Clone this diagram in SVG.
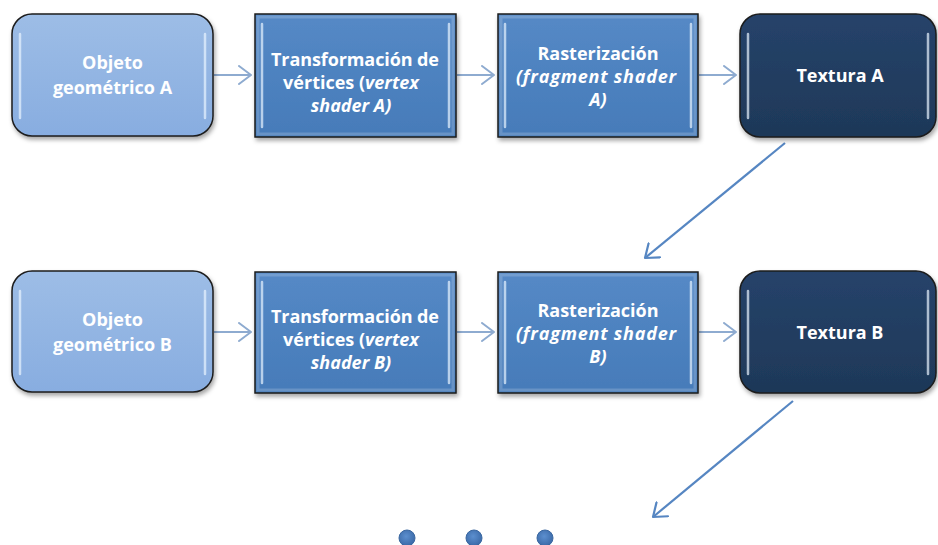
<svg xmlns="http://www.w3.org/2000/svg" width="938" height="545" viewBox="0 0 938 545">
  <defs>
    <linearGradient id="gLight" x1="0" y1="0" x2="0" y2="1">
      <stop offset="0" stop-color="#9dbde6"/>
      <stop offset="1" stop-color="#88ade0"/>
    </linearGradient>
    <linearGradient id="gMid" x1="0" y1="0" x2="0" y2="1">
      <stop offset="0" stop-color="#5589c6"/>
      <stop offset="1" stop-color="#467bb9"/>
    </linearGradient>
    <linearGradient id="gDark" x1="0" y1="0" x2="0" y2="1">
      <stop offset="0" stop-color="#26436a"/>
      <stop offset="1" stop-color="#1e3858"/>
    </linearGradient>
    <radialGradient id="gDot" cx="0.45" cy="0.4" r="0.6">
      <stop offset="0" stop-color="#5c8fcf"/>
      <stop offset="1" stop-color="#3b6aa8"/>
    </radialGradient>
    <filter id="shadow" x="-10%" y="-10%" width="125%" height="130%">
      <feDropShadow dx="1.5" dy="3" stdDeviation="2" flood-color="#000" flood-opacity="0.35"/>
    </filter>
    <marker id="chevH" viewBox="0 0 14 20" refX="13" refY="10" markerWidth="14" markerHeight="20" markerUnits="userSpaceOnUse" orient="auto">
      <path d="M1,1 L13,10 L1,19" fill="none" stroke="#8eabd0" stroke-width="2" stroke-linecap="round" stroke-linejoin="round"/>
    </marker>
    <marker id="chevD" viewBox="0 0 14 20" refX="13" refY="10" markerWidth="14" markerHeight="20" markerUnits="userSpaceOnUse" orient="auto">
      <path d="M1,1 L13,10 L1,19" fill="none" stroke="#5686c2" stroke-width="2.2" stroke-linecap="round" stroke-linejoin="round"/>
    </marker>
  </defs>
  <style>
    .box { stroke: #1c1c1c; stroke-width: 1.5; filter: url(#shadow); }
    .light { fill: url(#gLight); }
    .mid { fill: url(#gMid); }
    .dark { fill: url(#gDark); }
    .hl { stroke: #e8f4ff; stroke-opacity: 0.7; stroke-width: 2.5; stroke-linecap: round; fill: none; }
    .bevel { fill: none; stroke: #ffffff; stroke-opacity: 0.18; stroke-width: 3; }
    .lbl { font-family: "Open Sans", "Noto Sans", "Liberation Sans", sans-serif; font-weight: bold; font-size: 18px; fill: #ffffff; text-anchor: middle; }
    .it { font-style: italic; }
    .hconn { stroke: #8eabd0; stroke-width: 2; fill: none; marker-end: url(#chevH); }
    .dconn { stroke: #5686c2; stroke-width: 2.2; fill: none; marker-end: url(#chevD); }
    .dot { fill: url(#gDot); stroke: #3a67a0; stroke-width: 1; }
  </style>

  <!-- connectors -->
  <g id="connectors">
    <line class="hconn" x1="214" y1="75" x2="251" y2="75"/>
    <line class="hconn" x1="457" y1="75" x2="494" y2="75"/>
    <line class="hconn" x1="699" y1="75" x2="736" y2="75"/>
    <line class="hconn" x1="214" y1="332" x2="251" y2="332"/>
    <line class="hconn" x1="457" y1="332" x2="494" y2="332"/>
    <line class="hconn" x1="699" y1="332" x2="736" y2="332"/>
    <line class="dconn" x1="785" y1="143" x2="645" y2="258"/>
    <line class="dconn" x1="793" y1="401" x2="653" y2="517"/>
  </g>

  <!-- row A -->
  <g id="objeto-a">
    <rect class="box light" x="12" y="14" width="201" height="122" rx="20"/>
    <line class="hl" x1="20" y1="34" x2="20" y2="118"/>
    <line class="hl" x1="205" y1="34" x2="205" y2="118"/>
    <text class="lbl" x="112.5" y="69">Objeto</text>
    <text class="lbl" x="112.5" y="94">geométrico A</text>
  </g>
  <g id="vertex-a">
    <rect class="box mid" x="255" y="14" width="201" height="123"/>
    <rect class="bevel" x="258" y="17" width="195" height="117"/>
    <line class="hl" x1="262" y1="24" x2="262" y2="127"/>
    <line class="hl" x1="449" y1="24" x2="449" y2="127"/>
    <text class="lbl" x="355" y="66" textLength="168" lengthAdjust="spacing">Transformación de</text>
    <text class="lbl" x="351" y="89">vértices (<tspan class="it">vertex</tspan></text>
    <text class="lbl it" x="351" y="112">shader A)</text>
  </g>
  <g id="raster-a">
    <rect class="box mid" x="498" y="14" width="200" height="123"/>
    <rect class="bevel" x="501" y="17" width="194" height="117"/>
    <line class="hl" x1="505" y1="24" x2="505" y2="127"/>
    <line class="hl" x1="691" y1="24" x2="691" y2="127"/>
    <text class="lbl" x="598" y="60">Rasterización</text>
    <text class="lbl it" x="596" y="83" textLength="160" lengthAdjust="spacing">(fragment shader</text>
    <text class="lbl it" x="598" y="106">A)</text>
  </g>
  <g id="textura-a">
    <rect class="box dark" x="740" y="14" width="196" height="123" rx="20"/>
    <line class="hl" x1="748" y1="34" x2="748" y2="118"/>
    <line class="hl" x1="928" y1="34" x2="928" y2="118"/>
    <text class="lbl" x="840" y="82">Textura A</text>
  </g>

  <!-- row B -->
  <g id="objeto-b">
    <rect class="box light" x="12" y="271" width="201" height="121" rx="20"/>
    <line class="hl" x1="20" y1="291" x2="20" y2="374"/>
    <line class="hl" x1="205" y1="291" x2="205" y2="374"/>
    <text class="lbl" x="112.5" y="326">Objeto</text>
    <text class="lbl" x="112.5" y="351">geométrico B</text>
  </g>
  <g id="vertex-b">
    <rect class="box mid" x="255" y="272" width="201" height="121"/>
    <rect class="bevel" x="258" y="275" width="195" height="115"/>
    <line class="hl" x1="262" y1="282" x2="262" y2="383"/>
    <line class="hl" x1="449" y1="282" x2="449" y2="383"/>
    <text class="lbl" x="355" y="323" textLength="168" lengthAdjust="spacing">Transformación de</text>
    <text class="lbl" x="351" y="346">vértices (<tspan class="it">vertex</tspan></text>
    <text class="lbl it" x="351" y="369">shader B)</text>
  </g>
  <g id="raster-b">
    <rect class="box mid" x="498" y="272" width="200" height="121"/>
    <rect class="bevel" x="501" y="275" width="194" height="115"/>
    <line class="hl" x1="505" y1="282" x2="505" y2="383"/>
    <line class="hl" x1="691" y1="282" x2="691" y2="383"/>
    <text class="lbl" x="598" y="317">Rasterización</text>
    <text class="lbl it" x="596" y="340" textLength="160" lengthAdjust="spacing">(fragment shader</text>
    <text class="lbl it" x="598" y="363">B)</text>
  </g>
  <g id="textura-b">
    <rect class="box dark" x="740" y="271" width="196" height="122" rx="20"/>
    <line class="hl" x1="748" y1="291" x2="748" y2="374"/>
    <line class="hl" x1="928" y1="291" x2="928" y2="374"/>
    <text class="lbl" x="840" y="339">Textura B</text>
  </g>

  <!-- continuation dots -->
  <g id="ellipsis">
    <circle class="dot" cx="407" cy="538" r="8"/>
    <circle class="dot" cx="474" cy="538" r="8"/>
    <circle class="dot" cx="545" cy="538" r="8"/>
  </g>
</svg>
